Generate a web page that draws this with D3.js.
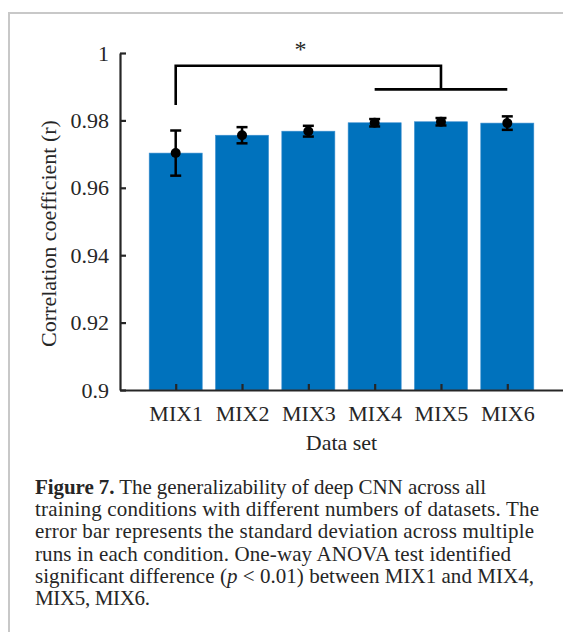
<!DOCTYPE html>
<html>
<head>
<meta charset="utf-8">
<script src="https://cdn.jsdelivr.net/npm/d3@7"></script>
<style>
  body { margin: 0; background: #fff; }
  text { font-family: "Liberation Serif", "Times New Roman", serif; fill: #262626; }
</style>
</head>
<body>
<div id="chart"></div>
<script>
// values
const categories = ['MIX1', 'MIX2', 'MIX3', 'MIX4', 'MIX5', 'MIX6']
const means = [0.9703, 0.9756, 0.9768, 0.9793, 0.9796, 0.9792]
const sds = [0.0067, 0.0024, 0.0016, 0.0011, 0.0011, 0.0020]
const yTicks = [0.9, 0.92, 0.94, 0.96, 0.98, 1]

// significance bracket: MIX1 vs MIX4, MIX5, MIX6
const sigFrom = 1
const sigGroup = [4, 5, 6]
const sigJoin = 5
const bracketTop = 0.9962
const bracketLow = 0.9892
const bracketLegEnd = 0.9846

const captionLines = [
    [['Figure 7.', true], [' The generalizability of deep CNN across all', false]],
    [['training conditions with different numbers of datasets. The', false]],
    [['error bar represents the standard deviation across multiple', false]],
    [['runs in each condition. One-way ANOVA test identified', false]],
    [['significant difference (', false], ['p', 'i'], [' < 0.01) between MIX1 and MIX4,', false]],
    [['MIX5, MIX6.', false]]
]
// measured line widths of the printed caption
const captionWidths = [451, 504, 499, 476, 499, 115]

const W = 563, H = 632
const barColor = '#0072bd'
const ink = '#262626'

const svg = d3.select('#chart')
    .append('svg')
    .attr('width', W)
    .attr('height', H)

// light frame around the figure
svg.append('rect')
    .attr('x', 9).attr('y', 13)
    .attr('width', W + 20).attr('height', H + 20)
    .attr('fill', 'none')
    .attr('stroke', '#c8c8c8')
    .attr('stroke-width', 2)

// scales
const x = d3.scaleLinear()
    .domain([0.16, 6.84])
    .range([120, 563])

const y = d3.scaleLinear()
    .domain([0.9, 1])
    .range([390, 53])

const barW = (x(2) - x(1)) * 0.8

// bars
svg.selectAll('.bar')
    .data(means)
    .enter()
    .append('rect')
        .attr('class', 'bar')
        .attr('x', (d, i) => x(i + 1) - barW / 2)
        .attr('y', d => y(d))
        .attr('width', barW)
        .attr('height', d => y(0.9) - y(d))
        .attr('fill', barColor)
        .attr('stroke', '#3d8fd0')
        .attr('stroke-width', 0.6)

// axes
const yAxis = svg.append('g')
    .attr('transform', `translate(${x(0.16)},0)`)
    .call(d3.axisLeft(y)
        .tickValues(yTicks)
        .tickFormat(d => String(+d.toFixed(2)))
        .tickSizeInner(-6)
        .tickSizeOuter(0)
        .tickPadding(11))

const xAxis = svg.append('g')
    .attr('transform', `translate(0,${y(0.9)})`)
    .call(d3.axisBottom(x)
        .tickValues(d3.range(1, categories.length + 1))
        .tickFormat(d => categories[d - 1])
        .tickSizeInner(-6)
        .tickSizeOuter(0)
        .tickPadding(15.5))

svg.selectAll('.domain')
    .attr('stroke', ink)
    .attr('stroke-width', 2.2)
svg.selectAll('.tick line')
    .attr('stroke', ink)
    .attr('stroke-width', 2.2)
svg.selectAll('.tick text')
    .attr('fill', ink)
    .style('font-family', '"Liberation Serif", serif')
    .style('font-size', '22px')

// axis titles
svg.append('text')
    .attr('transform', `translate(56,${(y(0.9) + y(1)) / 2 + 12}) rotate(-90)`)
    .attr('text-anchor', 'middle')
    .style('font-size', '22px')
    .text('Correlation coefficient (r)')

svg.append('text')
    .attr('x', (x(1) + x(6)) / 2)
    .attr('y', 450)
    .attr('text-anchor', 'middle')
    .style('font-size', '22px')
    .text('Data set')

// error bars
const capW = 11
const errG = svg.append('g')
    .attr('stroke', '#000')
    .attr('stroke-width', 2.5)

errG.selectAll('.err')
    .data(means)
    .enter()
    .append('line')
        .attr('x1', (d, i) => x(i + 1))
        .attr('x2', (d, i) => x(i + 1))
        .attr('y1', (d, i) => y(d + sds[i]))
        .attr('y2', (d, i) => y(d - sds[i]))

errG.selectAll('.capTop')
    .data(means)
    .enter()
    .append('line')
        .attr('x1', (d, i) => x(i + 1) - capW / 2)
        .attr('x2', (d, i) => x(i + 1) + capW / 2)
        .attr('y1', (d, i) => y(d + sds[i]))
        .attr('y2', (d, i) => y(d + sds[i]))

errG.selectAll('.capBot')
    .data(means)
    .enter()
    .append('line')
        .attr('x1', (d, i) => x(i + 1) - capW / 2)
        .attr('x2', (d, i) => x(i + 1) + capW / 2)
        .attr('y1', (d, i) => y(d - sds[i]))
        .attr('y2', (d, i) => y(d - sds[i]))

svg.selectAll('.dot')
    .data(means)
    .enter()
    .append('circle')
        .attr('cx', (d, i) => x(i + 1))
        .attr('cy', d => y(d))
        .attr('r', 5)
        .attr('fill', '#000')

// significance bracket
const bracket = d3.path()
bracket.moveTo(x(sigFrom), y(bracketLegEnd))
bracket.lineTo(x(sigFrom), y(bracketTop))
bracket.lineTo(x(sigJoin), y(bracketTop))
bracket.lineTo(x(sigJoin), y(bracketLow))
bracket.moveTo(x(d3.min(sigGroup)), y(bracketLow))
bracket.lineTo(x(d3.max(sigGroup)), y(bracketLow))

svg.append('path')
    .attr('d', bracket.toString())
    .attr('fill', 'none')
    .attr('stroke', '#000')
    .attr('stroke-width', 2.6)

svg.append('text')
    .attr('x', x(2.88))
    .attr('y', 57)
    .attr('text-anchor', 'middle')
    .style('font-size', '24px')
    .attr('fill', '#000')
    .text('*')

// caption
const cap = svg.append('g')
captionLines.forEach((parts, li) => {
    const t = cap.append('text')
        .attr('x', 35)
        .attr('y', 494 + li * 22.2)
        .attr('textLength', captionWidths[li])
        .attr('lengthAdjust', 'spacing')
        .style('font-size', '21px')
        .attr('fill', '#111')
    parts.forEach(([s, kind]) => {
        t.append('tspan')
            .attr('font-weight', kind === true ? 'bold' : null)
            .attr('font-style', kind === 'i' ? 'italic' : null)
            .text(s)
    })
})
</script>
</body>
</html>
